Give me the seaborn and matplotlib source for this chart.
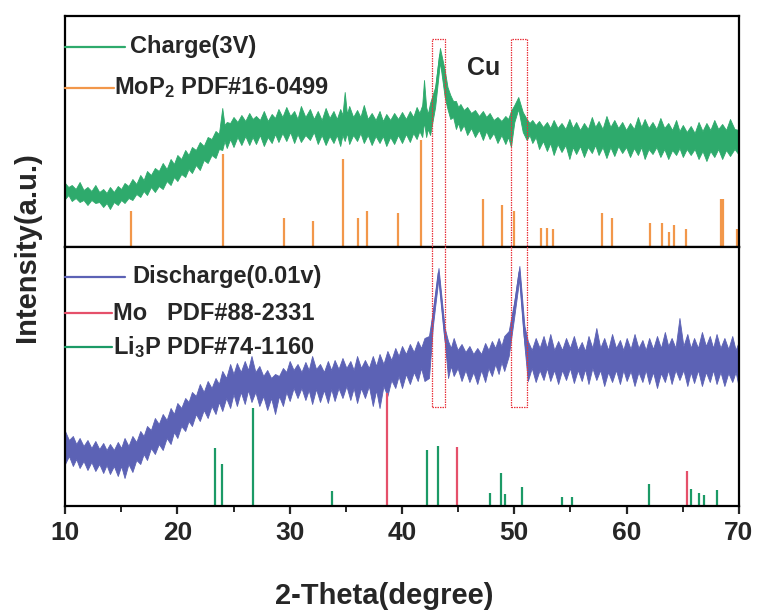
import numpy as np
import pandas as pd
import matplotlib
matplotlib.use("Agg")
import matplotlib.pyplot as plt
import matplotlib.transforms as mtransforms
from matplotlib.patches import Rectangle
from matplotlib.lines import Line2D
import seaborn as sns

# ---------------- data ----------------
# Charge(3V) pattern: 2-theta, lower / upper edge of the noisy trace
charge_x = [10.0, 10.3, 10.6, 10.95, 11.3, 11.65, 12.0, 12.35, 12.7, 13.05, 13.4, 13.7, 14.0, 14.35,
            14.7, 15.0, 15.3, 15.65, 16.0, 16.35, 16.7, 17.0, 17.3, 17.65, 18.0, 18.35, 18.7, 19.05,
            19.4, 19.7, 20.0, 20.35, 20.7, 21.0, 21.3, 21.65, 22.0, 22.35, 22.7, 23.05, 23.4, 23.7,
            24.0, 24.2, 24.4, 24.7, 25.0, 25.35, 25.7, 26.05, 26.4, 26.7, 27.0, 27.35, 27.7, 28.05,
            28.4, 28.7, 29.0, 29.35, 29.7, 30.05, 30.4, 30.7, 31.0, 31.4, 31.8, 32.15, 32.5, 32.85,
            33.2, 33.55, 33.9, 34.2, 34.5, 34.7, 34.9, 35.1, 35.3, 35.65, 36.0, 36.3, 36.6, 36.95,
            37.3, 37.65, 38.0, 38.3, 38.6, 38.95, 39.3, 39.65, 40.0, 40.35, 40.7, 41.0, 41.3, 41.55,
            41.8, 41.96, 42.15, 42.3, 42.5, 42.95, 43.38, 43.8, 44.05, 44.3, 44.55, 44.8, 45.0, 45.2,
            45.5, 45.8, 46.15, 46.5, 46.85, 47.2, 47.5, 47.8, 48.15, 48.5, 48.85, 49.2, 49.45, 49.7,
            50.0, 50.35, 50.75, 51.1, 51.35, 51.6, 51.9, 52.2, 52.55, 52.9, 53.2, 53.5, 53.85, 54.2,
            54.55, 54.9, 55.2, 55.5, 55.85, 56.2, 56.55, 56.9, 57.2, 57.5, 57.85, 58.2, 58.55, 58.9,
            59.25, 59.6, 59.95, 60.3, 60.65, 61.0, 61.3, 61.6, 61.95, 62.3, 62.65, 63.0, 63.35, 63.7,
            64.05, 64.4, 64.7, 65.0, 65.35, 65.7, 66.05, 66.4, 66.75, 67.1, 67.45, 67.8, 68.15, 68.5,
            68.85, 69.2, 69.6, 70.0]
charge_lo = [48, 52, 46, 49, 45, 47, 42, 47, 44, 45, 40, 44, 38, 45,
             42, 47, 44, 49, 47, 53, 50, 56, 52, 60, 55, 61, 58, 66,
             62, 70, 66, 73, 70, 78, 74, 82, 77, 87, 84, 92, 89, 98,
             97, 106, 99, 108, 100, 110, 102, 111, 102, 110, 103, 112, 101, 110,
             104, 113, 105, 114, 106, 115, 104, 113, 105, 112, 107, 115, 103, 112,
             102, 111, 104, 112, 101, 112, 106, 114, 103, 112, 106, 114, 104, 112,
             102, 111, 104, 111, 101, 110, 103, 112, 104, 113, 105, 114, 108, 116,
             110, 125, 110, 118, 112, 140, 185, 150, 138, 128, 130, 118, 124, 116,
             122, 112, 119, 110, 117, 107, 116, 108, 114, 104, 112, 103, 110, 100,
             125, 138, 115, 107, 112, 104, 110, 98, 106, 96, 104, 92, 103, 95,
             102, 88, 100, 93, 101, 90, 100, 94, 102, 92, 100, 89, 100, 91,
             101, 94, 100, 90, 99, 92, 100, 88, 98, 93, 100, 90, 98, 88,
             97, 92, 99, 90, 98, 92, 98, 88, 96, 86, 96, 90, 98, 88,
             97, 91, 98, 92]
charge_hi = [64, 60, 62, 58, 65, 57, 60, 56, 62, 55, 58, 54, 60, 55,
             61, 58, 64, 61, 68, 63, 72, 67, 76, 72, 79, 76, 84, 78,
             88, 83, 92, 88, 97, 92, 100, 97, 105, 101, 110, 108, 116, 113,
             139, 122, 125, 124, 130, 125, 132, 126, 134, 128, 131, 127, 136, 126,
             133, 129, 138, 130, 140, 131, 136, 128, 141, 130, 138, 128, 136, 127,
             139, 129, 136, 128, 138, 132, 155, 133, 141, 130, 137, 130, 142, 128,
             134, 127, 136, 126, 133, 127, 134, 128, 135, 128, 136, 130, 140, 134,
             142, 167, 140, 133, 144, 160, 199, 177, 160, 152, 146, 146, 140, 143,
             137, 140, 134, 137, 131, 136, 130, 134, 127, 130, 126, 131, 128, 136,
             142, 150, 135, 128, 124, 127, 122, 126, 120, 125, 119, 127, 119, 124,
             118, 128, 119, 125, 117, 124, 118, 130, 120, 126, 118, 131, 120, 127,
             119, 125, 117, 124, 118, 130, 120, 128, 119, 125, 118, 129, 119, 124,
             117, 127, 116, 122, 115, 121, 114, 125, 116, 124, 117, 127, 118, 123,
             117, 128, 118, 117]

# Discharge(0.01v) pattern
dis_x = [10.0, 10.35, 10.7, 11.0, 11.3, 11.65, 12.0, 12.35, 12.7, 13.05, 13.4, 13.7, 14.0, 14.35,
         14.7, 15.0, 15.3, 15.65, 16.0, 16.35, 16.7, 17.0, 17.3, 17.65, 18.0, 18.35, 18.7, 19.05,
         19.4, 19.7, 20.0, 20.35, 20.7, 21.0, 21.3, 21.65, 22.0, 22.35, 22.7, 23.05, 23.4, 23.7,
         24.0, 24.35, 24.7, 25.0, 25.3, 25.65, 26.0, 26.3, 26.6, 26.95, 27.3, 27.65, 28.0, 28.35,
         28.7, 29.05, 29.4, 29.7, 30.0, 30.35, 30.7, 31.05, 31.4, 31.7, 32.0, 32.35, 32.7, 33.05,
         33.4, 33.7, 34.0, 34.35, 34.7, 35.05, 35.4, 35.7, 36.0, 36.35, 36.7, 37.05, 37.4, 37.7,
         38.0, 38.35, 38.7, 39.05, 39.4, 39.7, 40.0, 40.35, 40.7, 41.05, 41.4, 41.7, 42.0, 42.4,
         42.75, 43.25, 43.8, 44.1, 44.35, 44.6, 44.95, 45.3, 45.65, 46.0, 46.35, 46.7, 47.05, 47.4,
         47.7, 48.0, 48.3, 48.6, 48.85, 49.1, 49.5, 50.0, 50.45, 50.9, 51.2, 51.55, 51.9, 52.25,
         52.6, 52.9, 53.2, 53.55, 53.9, 54.25, 54.6, 54.95, 55.3, 55.65, 56.0, 56.3, 56.6, 56.95,
         57.3, 57.65, 58.0, 58.35, 58.7, 59.05, 59.4, 59.7, 60.0, 60.35, 60.7, 61.05, 61.4, 61.7,
         62.0, 62.35, 62.7, 63.05, 63.4, 63.7, 64.0, 64.35, 64.7, 65.05, 65.4, 65.7, 66.0, 66.35,
         66.7, 67.05, 67.4, 67.7, 68.0, 68.35, 68.7, 69.05, 69.4, 69.7, 70.0]
dis_lo = [42, 50, 40, 47, 38, 45, 36, 44, 35, 42, 33, 41, 32, 40,
          30, 40, 28, 42, 34, 46, 42, 52, 46, 58, 52, 62, 56, 68,
          62, 74, 68, 80, 75, 85, 80, 92, 85, 96, 88, 100, 92, 104,
          95, 108, 98, 112, 100, 114, 102, 116, 104, 114, 100, 110, 96, 108,
          92, 110, 100, 114, 105, 118, 108, 118, 106, 116, 102, 117, 104, 116,
          103, 117, 105, 118, 108, 120, 106, 118, 103, 118, 108, 120, 100, 116,
          98, 120, 110, 126, 118, 130, 118, 132, 122, 134, 125, 138, 125, 128,
          180, 228, 165, 128, 140, 130, 138, 125, 136, 124, 134, 122, 136, 124,
          138, 130, 142, 132, 144, 135, 150, 190, 228, 160, 125, 138, 124, 136,
          126, 138, 125, 136, 122, 136, 126, 138, 123, 136, 125, 137, 122, 138,
          126, 136, 120, 134, 124, 136, 122, 136, 125, 135, 120, 134, 124, 136,
          122, 134, 118, 133, 124, 136, 122, 136, 126, 136, 120, 134, 123, 136,
          120, 134, 124, 136, 122, 134, 120, 133, 124, 134, 118]
dis_hi = [75, 66, 70, 62, 68, 60, 66, 58, 65, 57, 63, 56, 62, 56,
          64, 58, 68, 60, 70, 64, 75, 70, 80, 76, 88, 82, 92, 86,
          98, 92, 103, 98, 108, 104, 114, 110, 122, 114, 125, 118, 128, 122,
          135, 128, 142, 132, 143, 134, 145, 136, 150, 134, 140, 130, 136, 128,
          132, 130, 138, 134, 145, 136, 142, 134, 144, 136, 150, 137, 142, 134,
          145, 136, 146, 137, 148, 138, 145, 136, 150, 138, 146, 138, 150, 140,
          152, 142, 155, 146, 158, 150, 160, 152, 162, 154, 165, 158, 168, 170,
          195, 238, 178, 165, 158, 168, 156, 162, 154, 160, 152, 158, 152, 163,
          156, 165, 158, 168, 160, 170, 175, 205, 240, 180, 165, 156, 168, 158,
          170, 158, 172, 156, 165, 156, 168, 158, 170, 156, 164, 155, 170, 158,
          178, 158, 168, 156, 172, 158, 166, 156, 168, 157, 172, 158, 166, 156,
          168, 157, 170, 158, 174, 160, 168, 158, 188, 160, 172, 158, 168, 158,
          174, 160, 170, 158, 172, 158, 168, 157, 170, 156, 165]

# Standard cards (position, relative height)
mop2_pos = [15.88, 24.03, 29.52, 32.05, 34.72, 36.11, 36.88, 39.61, 41.69, 47.24, 48.93, 50.0,
            52.35, 52.88, 53.47, 57.80, 58.66, 62.08, 63.12, 63.80, 64.22, 65.28, 68.42, 68.55, 69.80]
mop2_h = [36, 93, 29, 26, 88, 29, 36, 34, 107, 48, 42, 36,
          19, 19, 18, 34, 29, 24, 24, 15, 22, 18, 48, 48, 18]
mo_pos = [38.63, 44.93, 65.40]
mo_h = [113, 59, 35]
li3p_pos = [23.35, 24.0, 26.77, 33.77, 42.26, 43.24, 47.84, 48.81, 49.2, 50.71, 54.25, 55.14,
            62.02, 65.70, 66.41, 66.86, 68.07]
li3p_h = [58, 42, 98, 15, 56, 60, 13, 33, 12, 19, 9, 9, 22, 17, 13, 11, 16]

cu_boxes = [(42.64, 43.82), (49.70, 51.13)]
x_ticks = [10, 20, 30, 40, 50, 60, 70]

# ---------------- style ----------------
sns.set_style("white")
plt.rcParams['font.family'] = ['Liberation Sans', 'DejaVu Sans']
plt.rcParams['font.weight'] = 'bold'
plt.rcParams['mathtext.fontset'] = 'custom'
plt.rcParams['mathtext.rm'] = 'Liberation Sans:bold'
plt.rcParams['mathtext.it'] = 'Liberation Sans:bold'
plt.rcParams['mathtext.bf'] = 'Liberation Sans:bold'

C_GREEN = '#2eaa6c'
C_BLUE = '#5c62b5'
C_ORANGE = '#f2974a'
C_RED = '#e5506a'
C_TEAL = '#1c9a66'

W, H = 757, 611
fig = plt.figure(figsize=(W / 100, H / 100), dpi=100)
fig.patch.set_facecolor('white')


def fx(px):
    return px / W


def fy(py):
    return 1 - py / H


ax_top = fig.add_axes([fx(65), fy(247), fx(739) - fx(65), fy(16) - fy(247)])
ax_bot = fig.add_axes([fx(65), fy(506), fx(739) - fx(65), fy(247) - fy(506)])


def band_frame(x, lo, hi):
    return pd.DataFrame({'x': list(x) + list(x), 'y': list(lo) + list(hi)})


sns.lineplot(data=band_frame(charge_x, charge_lo, charge_hi), x='x', y='y',
             errorbar=('pi', 100), color=C_GREEN, linewidth=1.2,
             err_kws={'alpha': 1, 'linewidth': 0.6, 'edgecolor': C_GREEN},
             legend=False, ax=ax_top, zorder=2)
sns.lineplot(data=band_frame(dis_x, dis_lo, dis_hi), x='x', y='y',
             errorbar=('pi', 100), color=C_BLUE, linewidth=1.2,
             err_kws={'alpha': 1, 'linewidth': 0.6, 'edgecolor': C_BLUE},
             legend=False, ax=ax_bot, zorder=2)

ax_top.vlines(mop2_pos, 0, mop2_h, color=C_ORANGE, linewidth=1.6, zorder=1)
ax_bot.vlines(li3p_pos, 0, li3p_h, color=C_TEAL, linewidth=1.6, zorder=1)
ax_bot.vlines(mo_pos, 0, mo_h, color=C_RED, linewidth=1.6, zorder=1)

for ax, top in ((ax_top, 231), (ax_bot, 259)):
    ax.set_xlim(10, 70)
    ax.set_ylim(0, top)
    ax.set_xlabel('')
    ax.set_ylabel('')
    ax.set_yticks([])
    for s in ax.spines.values():
        s.set_visible(True)
        s.set_linewidth(1.6)
        s.set_color('black')

ax_top.set_xticks([])
ax_bot.set_xticks(x_ticks)
ax_bot.set_xticks([15, 25, 35, 45, 55, 65], minor=True)
ax_bot.tick_params(axis='x', which='major', direction='out', length=6, width=1.6,
                   labelsize=19, pad=5, bottom=True)
ax_bot.tick_params(axis='x', which='minor', direction='out', length=4, width=1.4, bottom=True)
for lab in ax_bot.get_xticklabels():
    lab.set_fontweight('bold')

# axis titles
fig.text(fx(27), fy(247), 'Intensity(a.u.)', rotation=90, ha='center', va='center',
         fontsize=21, fontweight='bold')
fig.text(fx(384), fy(604), '2-Theta(degree)', ha='center', va='baseline',
         fontsize=21, fontweight='bold')

# Cu label
fig.text(fx(484), fy(68), 'Cu', ha='center', va='center', fontsize=18, fontweight='bold')

# red dotted boxes around Cu peaks (span both panels)
btrans = mtransforms.blended_transform_factory(ax_top.transData, fig.transFigure)
for x0, x1 in cu_boxes:
    r = Rectangle((x0, fy(407)), x1 - x0, fy(39) - fy(407), transform=btrans,
                  fill=False, edgecolor='#e8333c', linewidth=0.9, linestyle=(0, (1.2, 0.8)),
                  zorder=5)
    fig.add_artist(r)

# legends
legend_items = [
    (47, 65, 125, 130, C_GREEN, 'Charge(3V)'),
    (88, 65, 114, 114, C_ORANGE, r'MoP$_2$ PDF#16-0499'),
    (277, 65, 125, 132, C_BLUE, 'Discharge(0.01v)'),
    (313, 65, 112, 113, C_RED, 'Mo   PDF#88-2331'),
    (347, 65, 112, 113, C_TEAL, r'Li$_3$P PDF#74-1160'),
]
for py, xa, xb, xt, col, txt in legend_items:
    fig.add_artist(Line2D([fx(xa), fx(xb)], [fy(py), fy(py)], color=col, linewidth=1.6,
                          transform=fig.transFigure))
    fig.text(fx(xt), fy(py), txt, ha='left', va='center', fontsize=17, fontweight='bold')

fig.savefig('out.png', dpi=100, facecolor='white')
